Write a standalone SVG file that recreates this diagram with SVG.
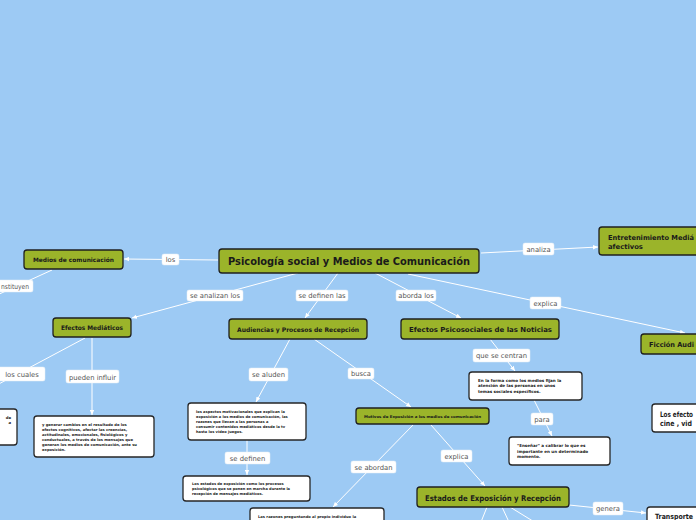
<svg xmlns="http://www.w3.org/2000/svg" width="696" height="520" viewBox="0 0 696 520">
<defs>
<marker id="ar" viewBox="0 0 8 8" refX="8" refY="4" markerWidth="5" markerHeight="5" orient="auto" markerUnits="userSpaceOnUse"><path d="M0,0.5 L8,4 L0,7.5 Z" fill="#ffffff"/></marker>
</defs>
<style>
.bg{fill:#9dcaf4}
.g{fill:#9bb42a;stroke:#1f1f1f;stroke-width:1.3}
.w{fill:#ffffff;stroke:#262626;stroke-width:1.3}
.l{fill:#ffffff;stroke:#e6eef5;stroke-width:0.5}
.c{fill:none;stroke:#ffffff;stroke-width:1}
.ca{fill:none;stroke:#ffffff;stroke-width:1;marker-end:url(#ar)}
.gt{font-family:"DejaVu Sans",Verdana,sans-serif;font-weight:bold;fill:#1a1a1a}
.lt{font-family:"DejaVu Sans",Verdana,sans-serif;font-size:6.8px;fill:#555555;text-anchor:middle}
.bt{font-family:"DejaVu Sans",Verdana,sans-serif;font-weight:bold;fill:#1a1a1a}
</style>
<rect class="bg" x="0" y="0" width="696" height="520"/>

<g id="connectors">
<path class="ca" d="M218,260 L124,259"/>
<path class="c" d="M52,270 L-5,296"/>
<path class="ca" d="M298,273 L132,318"/>
<path class="ca" d="M338,273 L305,318"/>
<path class="ca" d="M375,273 L461,318"/>
<path class="ca" d="M481,253 L598,247"/>
<path class="ca" d="M408,274 L685,333"/>
<path class="c" d="M85,338 L-5,386"/>
<path class="ca" d="M92,338 L92,415"/>
<path class="ca" d="M290,339 L256,402"/>
<path class="ca" d="M314,339 L411,407"/>
<path class="ca" d="M247,440 L247,475"/>
<path class="ca" d="M413,425 L333,507"/>
<path class="ca" d="M431,425 L485,486"/>
<path class="ca" d="M490,339 L515,371"/>
<path class="ca" d="M534,400 L552,436"/>
<path class="ca" d="M569,505 L646,513"/>
<path class="c" d="M487,507 L481,522"/>
<path class="c" d="M502,507 L509,522"/>
<path class="c" d="M510,507 L536,523"/>
</g>

<g id="labels">
<rect class="l" x="162" y="254" width="17" height="11" rx="2"/><text class="lt" x="170.5" y="262.3">los</text>
<rect class="l" x="-5" y="280" width="38" height="12" rx="2"/><text class="lt" x="1" y="288.8" style="text-anchor:start" textLength="28" lengthAdjust="spacingAndGlyphs">nstituyen</text>
<rect class="l" x="187" y="290" width="56" height="11" rx="2"/><text class="lt" x="215" y="298.3">se analizan los</text>
<rect class="l" x="296" y="290" width="52" height="11" rx="2"/><text class="lt" x="322" y="298.3">se definen las</text>
<rect class="l" x="396" y="290" width="40" height="11" rx="2"/><text class="lt" x="416" y="298.3">aborda los</text>
<rect class="l" x="523" y="243" width="31" height="12" rx="2"/><text class="lt" x="538.5" y="251.8">analiza</text>
<rect class="l" x="530" y="297" width="31" height="12" rx="2"/><text class="lt" x="545.5" y="305.8">explica</text>
<rect class="l" x="-2" y="367" width="47" height="14" rx="2"/><text class="lt" x="22" y="377">los cuales</text>
<rect class="l" x="66" y="370" width="53" height="13" rx="2"/><text class="lt" x="92.5" y="379.5">pueden influir</text>
<rect class="l" x="249" y="368" width="39" height="13" rx="2"/><text class="lt" x="268.5" y="377.3">se aluden</text>
<rect class="l" x="348" y="368" width="26" height="11" rx="2"/><text class="lt" x="361" y="376.3">busca</text>
<rect class="l" x="225" y="452" width="45" height="12" rx="2"/><text class="lt" x="247.5" y="460.8">se definen</text>
<rect class="l" x="351" y="461" width="45" height="12" rx="2"/><text class="lt" x="373.5" y="469.8">se abordan</text>
<rect class="l" x="441" y="450" width="31" height="12" rx="2"/><text class="lt" x="456.5" y="458.8">explica</text>
<rect class="l" x="473" y="349" width="57" height="13" rx="2"/><text class="lt" x="501.5" y="358.3">que se centran</text>
<rect class="l" x="531" y="413" width="22" height="12" rx="2"/><text class="lt" x="542" y="421.8">para</text>
<rect class="l" x="593" y="502" width="30" height="13" rx="2"/><text class="lt" x="608" y="511.3">genera</text>
</g>

<g id="n-main"><rect class="g" x="219" y="249" width="260" height="24" rx="3"/><text class="gt" x="228" y="265" font-size="10.5" textLength="242" lengthAdjust="spacingAndGlyphs">Psicología social y Medios de Comunicación</text></g>
<g id="n-medios"><rect class="g" x="24" y="250" width="99" height="19" rx="3"/><text class="gt" x="33" y="262" font-size="6" textLength="81" lengthAdjust="spacingAndGlyphs">Medios de comunicación</text></g>
<g id="n-efectosmed"><rect class="g" x="53" y="318" width="78" height="19" rx="3"/><text class="gt" x="61" y="330" font-size="6.2" textLength="62" lengthAdjust="spacingAndGlyphs">Efectos Mediáticos</text></g>
<g id="n-audiencias"><rect class="g" x="229" y="319" width="138" height="20" rx="3"/><text class="gt" x="237" y="331.5" font-size="6.3" textLength="122" lengthAdjust="spacingAndGlyphs">Audiencias y Procesos de Recepción</text></g>
<g id="n-psicosociales"><rect class="g" x="401" y="319" width="158" height="20" rx="3"/><text class="gt" x="409" y="332" font-size="6.8" textLength="143" lengthAdjust="spacingAndGlyphs">Efectos Psicosociales de las Noticias</text></g>
<g id="n-entretenimiento"><rect class="g" x="599" y="227" width="110" height="28" rx="3"/><text class="gt" x="608" y="239.5" font-size="6.8" textLength="86" lengthAdjust="spacingAndGlyphs">Entretenimiento Mediá</text><text class="gt" x="608" y="248.5" font-size="6.8">afectivos</text></g>
<g id="n-ficcion"><rect class="g" x="641" y="334" width="70" height="20" rx="3"/><text class="gt" x="649" y="346.8" font-size="6.8" textLength="45" lengthAdjust="spacingAndGlyphs">Ficción Audi</text></g>
<g id="n-motivos"><rect class="g" x="356" y="408" width="133" height="16" rx="3"/><text class="gt" x="364" y="418" font-size="3.8" textLength="117" lengthAdjust="spacingAndGlyphs">Motivos de Exposición a los medios de comunicación</text></g>
<g id="n-estados"><rect class="g" x="417" y="487" width="152" height="20" rx="3"/><text class="gt" x="425" y="500.5" font-size="7.8" textLength="136" lengthAdjust="spacingAndGlyphs">Estados de Exposición y Recepción</text></g>

<g id="n-leftbox"><rect class="w" x="-6" y="409" width="23" height="36" rx="3"/><text class="bt" x="11" y="419" font-size="3.8" text-anchor="end">de</text><text class="bt" x="11" y="424" font-size="3.8" text-anchor="end">a</text></g>
<g id="n-generar"><rect class="w" x="34" y="416" width="120" height="41" rx="3"/>
<text class="bt" font-size="3.7"><tspan x="42" y="426">y generar cambios en el resultado de los</tspan><tspan x="42" y="431">efectos cognitivos, afectar las creencias,</tspan><tspan x="42" y="436">actitudinales, emocionales, fisiológicos y</tspan><tspan x="42" y="441">conductuales, a través de los mensajes que</tspan><tspan x="42" y="446">generan los medios de comunicación, ante su</tspan><tspan x="42" y="451">exposición.</tspan></text></g>
<g id="n-aspectos"><rect class="w" x="188" y="403" width="118" height="37" rx="3"/>
<text class="bt" font-size="3.6"><tspan x="196" y="413">los aspectos motivacionales que explican la</tspan><tspan x="196" y="418">exposición a los medios de comunicación, las</tspan><tspan x="196" y="423">razones que llevan a las personas a</tspan><tspan x="196" y="428">consumir contenidos mediáticos desde la tv</tspan><tspan x="196" y="433">hasta los video juegos.</tspan></text></g>
<g id="n-losestados"><rect class="w" x="183" y="476" width="127" height="25" rx="3"/>
<text class="bt" font-size="3.6"><tspan x="192" y="484.5">Los estados de exposición como los procesos</tspan><tspan x="192" y="489.5">psicológicos que se ponen en marcha durante la</tspan><tspan x="192" y="494.5">recepción de mensajes mediáticos.</tspan></text></g>
<g id="n-razones"><rect class="w" x="250" y="508" width="134" height="20" rx="3"/>
<text class="bt" font-size="3.7"><tspan x="258" y="517.5">Las razones preguntando al propio individuo la</tspan></text></g>
<g id="n-forma"><rect class="w" x="469" y="372" width="113" height="28" rx="3"/>
<text class="bt" font-size="4.1"><tspan x="478" y="381.5">En la forma como los medios fijan la</tspan><tspan x="478" y="387">atención de las personas en unos</tspan><tspan x="478" y="392.5">temas sociales específicos.</tspan></text></g>
<g id="n-ensenar"><rect class="w" x="509" y="437" width="101" height="28" rx="3"/>
<text class="bt" font-size="4.1"><tspan x="517" y="446.8">"Enseñar" a calibrar lo que es</tspan><tspan x="517" y="452.5">importante en un determinado</tspan><tspan x="517" y="458.2">momento.</tspan></text></g>
<g id="n-losefectos"><rect class="w" x="652" y="404" width="60" height="28" rx="3"/>
<text class="bt" font-size="7.4"><tspan x="660" y="416.5" textLength="33" lengthAdjust="spacingAndGlyphs">Los efecto</tspan><tspan x="660" y="426" textLength="32" lengthAdjust="spacingAndGlyphs">cine , vid</tspan></text></g>
<g id="n-transporte"><rect class="w" x="647" y="507" width="60" height="20" rx="3"/>
<text class="bt" font-size="7.2"><tspan x="655" y="519" textLength="38" lengthAdjust="spacingAndGlyphs">Transporte</tspan></text></g>
</svg>
